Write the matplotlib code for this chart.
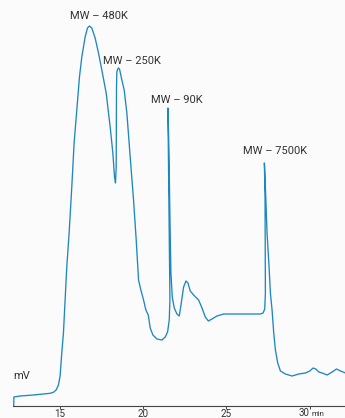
import matplotlib.pyplot as plt

# chromatogram trace (retention time in min, detector signal in mV)
time_min = [12.25, 12.26, 12.63, 13.43, 14.43, 14.63, 14.79, 14.93, 15.03, 15.13,
            15.23, 15.33, 15.43, 15.57, 15.73, 15.87, 16.03, 16.19, 16.33, 16.53,
            16.67, 16.79, 16.93, 17.13, 17.33, 17.53, 17.79, 18.03, 18.19, 18.29,
            18.35, 18.39, 18.41, 18.43, 18.51, 18.59, 18.73, 18.87, 19.03, 19.23,
            19.43, 19.59, 19.73, 19.87, 20.03, 20.17, 20.31, 20.43, 20.59, 20.83,
            21.13, 21.33, 21.47, 21.57, 21.61, 21.49, 21.55, 21.61, 21.67, 21.75,
            21.87, 22.03, 22.17, 22.29, 22.43, 22.57, 22.69, 22.83, 23.03, 23.33,
            23.53, 23.73, 23.91, 24.13, 24.43, 24.83, 25.43, 26.63, 27.03, 27.19,
            27.29, 27.33, 27.31, 27.27, 27.33, 27.43, 27.55, 27.63, 27.73, 27.83,
            27.93, 28.07, 28.23, 28.53, 28.93, 29.33, 29.73, 29.99, 30.19, 30.35,
            30.53, 30.73, 31.03, 31.33, 31.59, 31.83, 32.13]
signal_mv = [0, 9, 10, 11, 12.7, 13.7, 16, 21, 30, 53,
             73, 106, 139, 173, 219, 263, 296, 329, 349, 369,
             378, 380, 378, 368, 353, 336, 313, 279, 253, 229,
             223, 239, 319, 334, 338, 337, 326, 316, 293, 249,
             206, 166, 126, 116, 106, 96, 91, 78, 71, 67,
             66, 69, 74, 86, 106, 298, 256, 189, 133, 109,
             98, 92, 90, 103, 119, 125, 123, 115, 111, 106,
             98, 89, 85, 87, 90, 92, 92, 92, 92, 93,
             97, 113, 206, 243, 219, 173, 139, 113, 96, 73,
             56, 43, 35, 32, 30, 32, 33, 35, 38, 37,
             34, 33, 31, 34, 37, 35, 33]

# molecular weight labels for the main peaks
peak_labels = ["MW – 480K", "MW – 250K", "MW – 90K", "MW – 7500K"]
peak_label_x = [17.35, 19.35, 22.01, 27.90]
peak_label_y = [390, 345, 306, 255]

xticks = [15, 20, 25, 30]
xtick_labels = ["15", "20", "25", ""]

bg = "#fbfbfb"
ink = "#333333"
plt.rcParams['font.family'] = ['Roboto', 'DejaVu Sans']

fig = plt.figure(figsize=(3.45, 4.18), dpi=100, facecolor=bg)
ax = fig.add_axes([13.2 / 345, 12 / 418, 1 - 13.2 / 345, 406 / 418])
ax.set_facecolor(bg)

ax.plot(time_min, signal_mv, color="#1f87c0", lw=0.95, solid_joinstyle="round",
        clip_on=False)

for lab, lx, ly in zip(peak_labels, peak_label_x, peak_label_y):
    ax.text(lx, ly, lab, ha="center", va="center", fontsize=8, color=ink)

ax.text(12.23, 30, "mV", ha="left", va="center", fontsize=8, color=ink)

ax.set_xlim(12.22, 32.1)
ax.set_ylim(0, 406)

for s in ["top", "right", "left"]:
    ax.spines[s].set_visible(False)
ax.spines["bottom"].set_color("#444444")
ax.spines["bottom"].set_linewidth(0.8)
ax.set_yticks([])
ax.set_xticks(xticks)
ax.set_xticklabels(xtick_labels)
ax.tick_params(axis="x", direction="out", length=2, width=0.7, color="#444444",
               labelsize=7, labelcolor=ink, pad=0.2)

# "30 min" label, unit set smaller
ax.annotate("30", xy=(30, 0), xycoords="data", xytext=(-0.5, -5.4), textcoords="offset points",
            ha="right", va="center", fontsize=7, color=ink, annotation_clip=False)
ax.annotate("min", xy=(30, 0), xycoords="data", xytext=(1.0, -5.8), textcoords="offset points",
            ha="left", va="center", fontsize=5.5, color=ink, annotation_clip=False)

fig.savefig("out.png", dpi=100, facecolor=bg)
